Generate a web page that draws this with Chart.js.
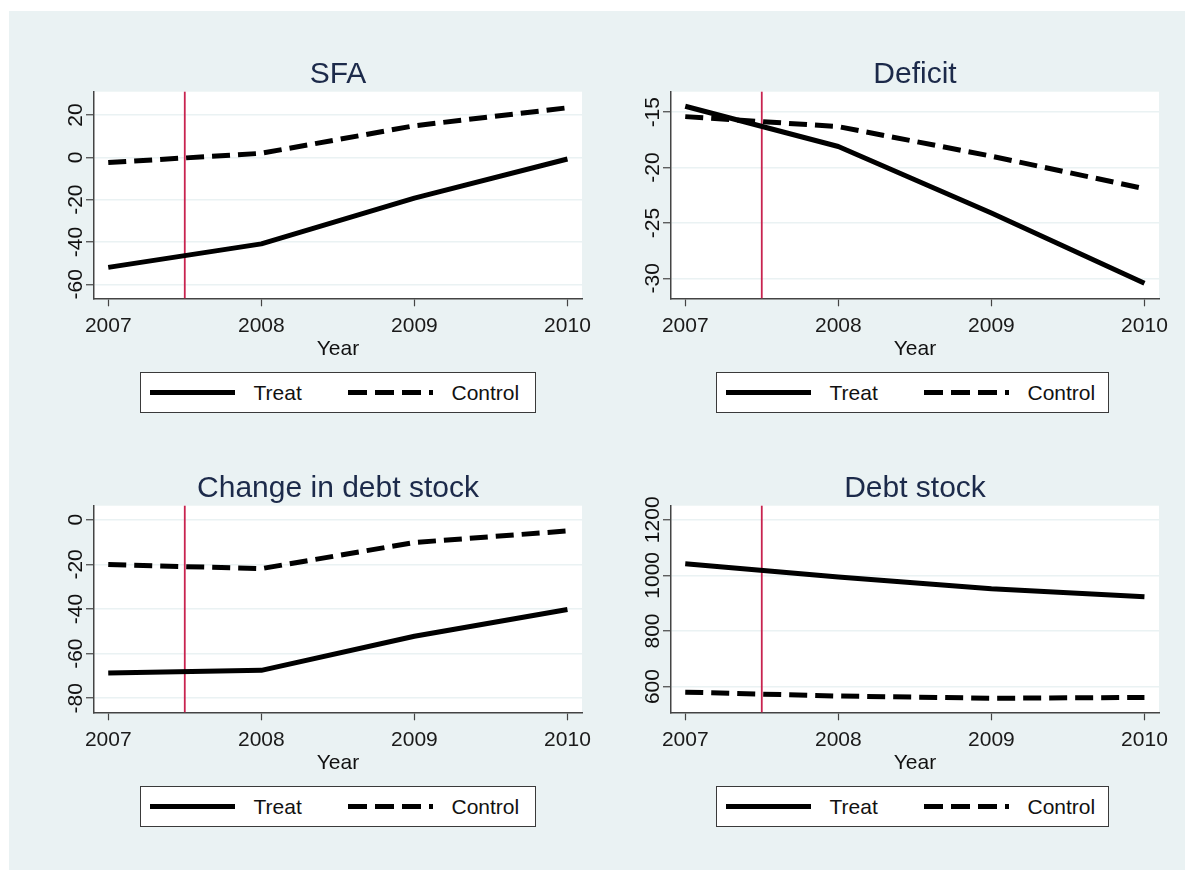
<!DOCTYPE html>
<html lang="en">
<head>
	<meta charset="utf-8">
	<title>SFA, deficit and debt stock: treat vs control</title>
	<style>
		html, body { margin: 0; width: 1185px; height: 870px; overflow: hidden; background: #fff; font-family: "Liberation Sans", Arial, sans-serif; }
		#bg { position: absolute; left: 9px; top: 11px; right: 0; bottom: 0; background: #eaf2f3; }
		canvas { position: absolute; }
		.legend { position: absolute; height: 41px; background: #fff; border: 1.5px solid #3a3a3a; box-sizing: border-box; }
		.legend svg { position: absolute; top: 0; }
		.legend span { position: absolute; top: 9px; font-size: 21px; line-height: 21px; color: #111; white-space: nowrap; }
	</style>
</head>
<body>
	<div id="bg"></div>
	<script src="https://cdn.jsdelivr.net/npm/chart.js@4.4.0/dist/chart.umd.min.js"></script>
	<script>
  // data
  var years = [2007, 2008, 2009, 2010];
  var cutoffYear = 2007.5;
  var seriesNames = ['Treat', 'Control'];

  var sfaTreat = [-52, -40.9, -19.3, -0.8];
  var sfaControl = [-2.5, 1.9, 14.9, 23.4];
  var sfaTicks = [-60, -40, -20, 0, 20];

  var deficitTreat = [-14.46, -18.1, -24.1, -30.45];
  var deficitControl = [-15.4, -16.3, -18.97, -21.9];
  var deficitTicks = [-30, -25, -20, -15];

  var changeTreat = [-68.7, -67.5, -52.2, -40.2];
  var changeControl = [-20.1, -21.9, -10.2, -5.0];
  var changeTicks = [-80, -60, -40, -20, 0];

  var stockTreat = [1042, 994, 952, 923];
  var stockControl = [580, 566, 558, 561];
  var stockTicks = [600, 800, 1000, 1200];

  var panels = [
  	{title: 'SFA', treat: sfaTreat, control: sfaControl, ticks: sfaTicks, min: -66.6, max: 31},
  	{title: 'Deficit', treat: deficitTreat, control: deficitControl, ticks: deficitTicks, min: -31.8, max: -13.15},
  	{title: 'Change in debt stock', treat: changeTreat, control: changeControl, ticks: changeTicks, min: -86.3, max: 6.3},
  	{title: 'Debt stock', treat: stockTreat, control: stockControl, ticks: stockTicks, min: 507.5, max: 1250.6}
  ];

  // layout (page pixels)
  var cols = [
  	{x: 10, w: 610, plotLeft: 94, plotRight: 582, legendX: 140, legendW: 396},
  	{x: 595, w: 590, plotLeft: 671, plotRight: 1159, legendX: 716, legendW: 393}
  ];
  var rows = [
  	{y: 40, h: 330, plotTop: 91.7, plotBottom: 298.3, legendY: 372},
  	{y: 454, h: 330, plotTop: 505.7, plotBottom: 712.3, legendY: 786}
  ];

  var FONT = '"Liberation Sans", Arial, sans-serif';
  Chart.defaults.font.family = FONT;

  var panelPlugin = {
  	id: 'panel',
  	beforeDraw: function(chart) {
  		var a = chart.chartArea, ctx = chart.ctx;
  		ctx.save();
  		ctx.fillStyle = '#fff';
  		ctx.fillRect(a.left, a.top, a.right - a.left, a.bottom - a.top);
  		ctx.restore();
  	},
  	beforeDatasetsDraw: function(chart) {
  		var a = chart.chartArea, ctx = chart.ctx;
  		var px = chart.scales.x.getPixelForValue(cutoffYear);
  		ctx.save();
  		ctx.strokeStyle = '#c8234f';
  		ctx.lineWidth = 1.8;
  		ctx.beginPath();
  		ctx.moveTo(px, a.top);
  		ctx.lineTo(px, a.bottom);
  		ctx.stroke();
  		ctx.restore();
  	},
  	afterDraw: function(chart, args, opts) {
  		var a = chart.chartArea, ctx = chart.ctx, ys = chart.scales.y;
  		var cx = (a.left + a.right) / 2;
  		ctx.save();
  		ctx.textAlign = 'center';
  		ctx.textBaseline = 'alphabetic';
  		// title
  		ctx.fillStyle = '#1c2a4a';
  		ctx.font = '30px ' + FONT;
  		ctx.fillText(opts.title, cx, a.top - 9);
  		// x axis title
  		ctx.fillStyle = '#111';
  		ctx.font = '21px ' + FONT;
  		ctx.fillText('Year', cx, a.bottom + 57);
  		// rotated y tick labels
  		ys.ticks.forEach(function(t) {
  			var py = ys.getPixelForValue(t.value);
  			ctx.save();
  			ctx.translate(a.left - 12, py);
  			ctx.rotate(-Math.PI / 2);
  			ctx.fillText(String(t.value), 0, 0);
  			ctx.restore();
  		});
  		ctx.restore();
  	}
  };

  function toPoints(vals) {
  	return years.map(function(yr, i) { return {x: yr, y: vals[i]}; });
  }

  function makeChart(p, col, row) {
  	var canvas = document.createElement('canvas');
  	canvas.width = col.w;
  	canvas.height = row.h;
  	canvas.style.left = col.x + 'px';
  	canvas.style.top = row.y + 'px';
  	document.body.appendChild(canvas);

  	var yWidth = col.plotLeft - col.x;
  	var xHeight = row.y + row.h - row.plotBottom;

  	new Chart(canvas, {
  		type: 'line',
  		data: {
  			datasets: [{
  				label: seriesNames[0],
  				data: toPoints(p.treat),
  				borderColor: '#000',
  				borderWidth: 5,
  				pointRadius: 0,
  				borderJoinStyle: 'round'
  			}, {
  				label: seriesNames[1],
  				data: toPoints(p.control),
  				borderColor: '#000',
  				borderWidth: 5,
  				borderDash: [18, 8],
  				pointRadius: 0,
  				borderJoinStyle: 'round'
  			}]
  		},
  		options: {
  			responsive: false,
  			animation: false,
  			events: [],
  			layout: {padding: {left: 0, right: col.x + col.w - col.plotRight, top: row.plotTop - row.y, bottom: 0}},
  			plugins: {
  				legend: {display: false},
  				tooltip: {enabled: false},
  				panel: {title: p.title}
  			},
  			scales: {
  				x: {
  					type: 'linear',
  					min: 2006.907,
  					max: 2010.095,
  					afterBuildTicks: function(s) { s.ticks = years.map(function(v) { return {value: v}; }); },
  					afterFit: function(s) { s.height = xHeight; },
  					ticks: {font: {size: 21}, color: '#1a1a1a', padding: 7, maxRotation: 0, callback: function(v) { return String(v); }},
  					grid: {drawOnChartArea: false, tickLength: 8, tickColor: '#444', tickWidth: 1.2},
  					border: {color: '#444', width: 1.5}
  				},
  				y: {
  					min: p.min,
  					max: p.max,
  					afterBuildTicks: function(s) { s.ticks = p.ticks.map(function(v) { return {value: v}; }); },
  					afterFit: function(s) { s.width = yWidth; },
  					ticks: {display: false},
  					grid: {color: '#eaf2f3', lineWidth: 1.5, tickLength: 8, tickColor: '#444', tickWidth: 1.2},
  					border: {color: '#444', width: 1.5}
  				}
  			}
  		},
  		plugins: [panelPlugin]
  	});
  }

  function sample(dashed) {
  	return '<svg width="86" height="38"><line x1="0" y1="19.5" x2="85" y2="19.5" stroke="#000" stroke-width="5"' +
  		(dashed ? ' stroke-dasharray="19 8"' : '') + '/></svg>';
  }

  function makeLegend(col, row) {
  	var div = document.createElement('div');
  	div.className = 'legend';
  	div.style.left = col.legendX + 'px';
  	div.style.top = row.legendY + 'px';
  	div.style.width = col.legendW + 'px';
  	div.innerHTML =
  		'<div style="position:absolute;left:8.5px;top:0">' + sample(false) + '</div>' +
  		'<span style="left:112.5px">' + seriesNames[0] + '</span>' +
  		'<div style="position:absolute;left:206.5px;top:0">' + sample(true) + '</div>' +
  		'<span style="left:310.5px">' + seriesNames[1] + '</span>';
  	document.body.appendChild(div);
  }

  for (var i = 0; i < panels.length; i++) {
  	var col = cols[i % 2], row = rows[Math.floor(i / 2)];
  	makeChart(panels[i], col, row);
  	makeLegend(col, row);
  }
	</script>
</body>
</html>
